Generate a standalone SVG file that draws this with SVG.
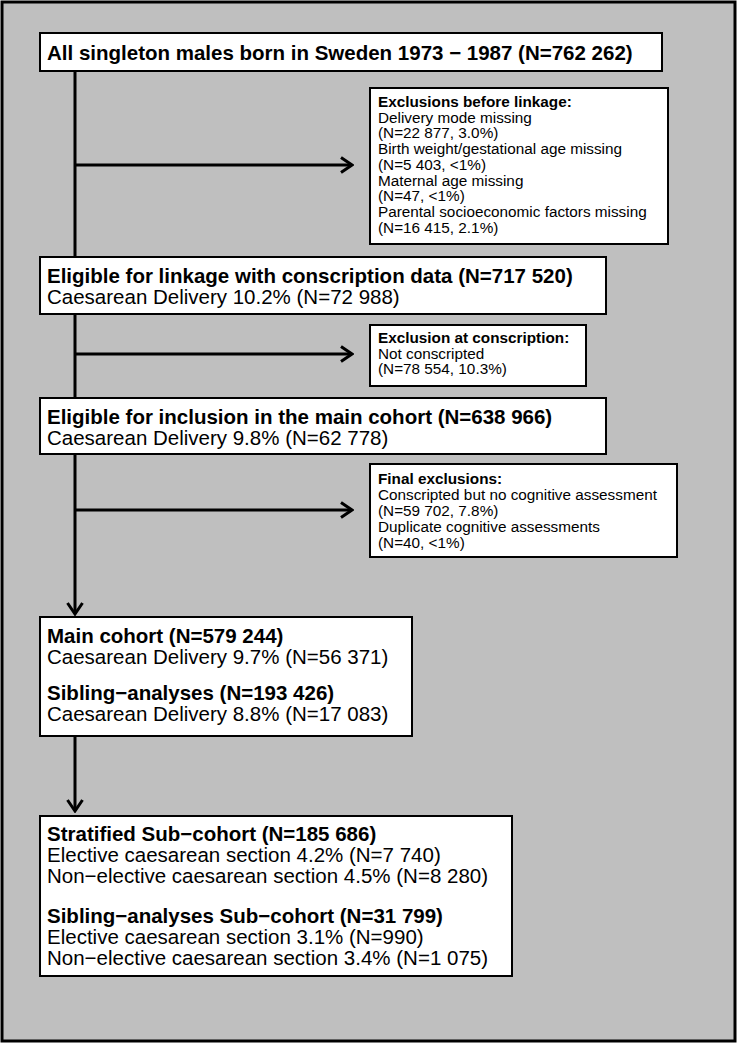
<svg xmlns="http://www.w3.org/2000/svg" width="737" height="1044" viewBox="0 0 737 1044">
<style>
.box{fill:#ffffff;stroke:#000000;stroke-width:2}
.t{font-family:"Liberation Sans",Arial,Helvetica,sans-serif;font-size:20.5px;fill:#000}
.b{font-weight:bold}
.s{font-family:"Liberation Sans",Arial,Helvetica,sans-serif;font-size:15.3px;fill:#000}
.ln{fill:none;stroke:#000;stroke-width:3}
</style>
<defs>
<marker id="ah" markerUnits="userSpaceOnUse" viewBox="0 0 14 18" refX="12.5" refY="9" markerWidth="14" markerHeight="18" orient="auto">
<path d="M1.5,1.5 L12.5,9 L1.5,16.5" fill="none" stroke="#000" stroke-width="3"/>
</marker>
</defs>
<rect x="2" y="2" width="733" height="1039" fill="#bfbfbf" stroke="#000" stroke-width="3"/>
<g id="connectors">
<line class="ln" x1="75" y1="71" x2="75" y2="614" marker-end="url(#ah)"/>
<line class="ln" x1="75" y1="165" x2="352" y2="165" marker-end="url(#ah)"/>
<line class="ln" x1="75" y1="354" x2="352" y2="354" marker-end="url(#ah)"/>
<line class="ln" x1="75" y1="510" x2="352" y2="510" marker-end="url(#ah)"/>
<line class="ln" x1="75" y1="736" x2="75" y2="811" marker-end="url(#ah)"/>
</g>
<g id="n1">
<rect class="box" x="40" y="33" width="622" height="38"/>
<text class="t b" x="47" y="60">All singleton males born in Sweden 1973 − 1987 (N=762 262)</text>
</g>
<g id="ex1">
<rect class="box" x="370" y="88" width="298" height="156"/>
<text class="s" x="378" y="107"><tspan class="b">Exclusions before linkage:</tspan><tspan x="378" dy="15.7">Delivery mode missing</tspan><tspan x="378" dy="15.7">(N=22 877, 3.0%)</tspan><tspan x="378" dy="15.7">Birth weight/gestational age missing</tspan><tspan x="378" dy="15.7">(N=5 403, &lt;1%)</tspan><tspan x="378" dy="15.7">Maternal age missing</tspan><tspan x="378" dy="15.7">(N=47, &lt;1%)</tspan><tspan x="378" dy="15.7">Parental socioeconomic factors missing</tspan><tspan x="378" dy="15.7">(N=16 415, 2.1%)</tspan></text>
</g>
<g id="n2">
<rect class="box" x="40" y="257" width="566" height="57"/>
<text class="t" x="47" y="283"><tspan class="b">Eligible for linkage with conscription data (N=717 520)</tspan><tspan x="47" dy="21">Caesarean Delivery 10.2% (N=72 988)</tspan></text>
</g>
<g id="ex2">
<rect class="box" x="370" y="325" width="216" height="61"/>
<text class="s" x="378" y="343"><tspan class="b">Exclusion at conscription:</tspan><tspan x="378" dy="15.7">Not conscripted</tspan><tspan x="378" dy="15.7">(N=78 554, 10.3%)</tspan></text>
</g>
<g id="n3">
<rect class="box" x="40" y="398" width="566" height="56"/>
<text class="t" x="47" y="424"><tspan class="b">Eligible for inclusion in the main cohort (N=638 966)</tspan><tspan x="47" dy="21">Caesarean Delivery 9.8% (N=62 778)</tspan></text>
</g>
<g id="ex3">
<rect class="box" x="370" y="464" width="307" height="93"/>
<text class="s" x="378" y="484"><tspan class="b">Final exclusions:</tspan><tspan x="378" dy="16">Conscripted but no cognitive assessment</tspan><tspan x="378" dy="16">(N=59 702, 7.8%)</tspan><tspan x="378" dy="16">Duplicate cognitive assessments</tspan><tspan x="378" dy="16">(N=40, &lt;1%)</tspan></text>
</g>
<g id="n4">
<rect class="box" x="40" y="617" width="372" height="119"/>
<text class="t" x="47" y="643"><tspan class="b">Main cohort (N=579 244)</tspan><tspan x="47" dy="21">Caesarean Delivery 9.7% (N=56 371)</tspan><tspan class="b" x="47" dy="36">Sibling−analyses (N=193 426)</tspan><tspan x="47" dy="21">Caesarean Delivery 8.8% (N=17 083)</tspan></text>
</g>
<g id="n5">
<rect class="box" x="40" y="816" width="472" height="160"/>
<text class="t" x="47" y="841"><tspan class="b">Stratified Sub−cohort (N=185 686)</tspan><tspan x="47" dy="21">Elective caesarean section 4.2% (N=7 740)</tspan><tspan x="47" dy="21">Non−elective caesarean section 4.5% (N=8 280)</tspan><tspan class="b" x="47" dy="40">Sibling−analyses Sub−cohort (N=31 799)</tspan><tspan x="47" dy="21">Elective caesarean section 3.1% (N=990)</tspan><tspan x="47" dy="21">Non−elective caesarean section 3.4% (N=1 075)</tspan></text>
</g>
</svg>
